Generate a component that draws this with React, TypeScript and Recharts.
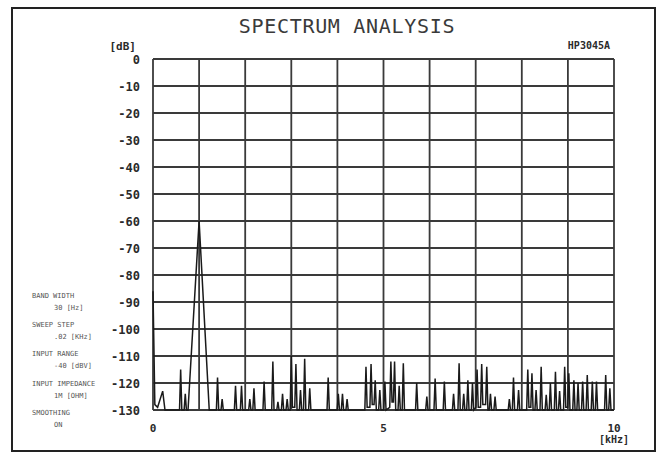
import React from 'react';
import { LineChart, Line, XAxis, YAxis, CartesianGrid } from 'recharts';

// frequency [kHz] and level [dB]
const freqKHz = [
  0, 0.04, 0.1, 0.21, 0.26, 0.575, 0.6, 0.625, 0.675, 0.7, 0.725, 0.76, 1.0, 1.22,
  1.375, 1.4, 1.425, 1.475, 1.5, 1.525,
  1.765, 1.79, 1.815, 1.895, 1.92, 1.945,
  2.075, 2.1, 2.125, 2.165, 2.19, 2.215,
  2.385, 2.41, 2.435, 2.575, 2.6, 2.625, 2.685, 2.71, 2.735, 2.785, 2.81, 2.835,
  2.885, 2.91, 2.935, 2.975, 3.0, 3.025, 3.075, 3.1, 3.125, 3.175, 3.2, 3.225, 3.265, 3.29, 3.315, 3.375, 3.4, 3.425,
  3.775, 3.8, 3.825, 3.995, 4.02, 4.045, 4.085, 4.11, 4.135, 4.185, 4.21, 4.235,
  4.595, 4.62, 4.645, 4.705, 4.73, 4.755, 4.795, 4.82, 4.845, 4.895, 4.92, 4.945, 5.005, 5.03, 5.055,
  5.135, 5.16, 5.185, 5.215, 5.24, 5.265, 5.315, 5.34, 5.365, 5.405, 5.43, 5.455,
  5.695, 5.72, 5.745, 5.915, 5.94, 5.965, 6.095, 6.12, 6.145, 6.295, 6.32, 6.345,
  6.495, 6.52, 6.545, 6.615, 6.64, 6.665, 6.715, 6.74, 6.765, 6.805, 6.83, 6.855, 6.905, 6.93, 6.955,
  7.005, 7.03, 7.055, 7.105, 7.13, 7.155, 7.215, 7.24, 7.265, 7.295, 7.32, 7.345, 7.395, 7.42, 7.445,
  7.705, 7.73, 7.755, 7.795, 7.82, 7.845, 7.905, 7.93, 7.955,
  8.105, 8.13, 8.155, 8.195, 8.22, 8.245, 8.285, 8.31, 8.335, 8.395, 8.42, 8.445, 8.505, 8.53, 8.555,
  8.595, 8.62, 8.645, 8.705, 8.73, 8.755, 8.795, 8.82, 8.845, 8.905, 8.93, 8.955,
  8.995, 9.02, 9.045, 9.105, 9.13, 9.155, 9.195, 9.22, 9.245, 9.295, 9.32, 9.345, 9.395, 9.42, 9.445,
  9.505, 9.53, 9.555, 9.595, 9.62, 9.645, 9.795, 9.82, 9.845, 9.885, 9.91, 9.935, 10,
];

const levelDb = [
  -86, -128, -129, -123, -130, -130, -115, -130, -130, -124, -130, -130, -60, -130,
  -130, -118, -130, -130, -126, -130,
  -130, -121, -130, -130, -121, -130,
  -130, -126, -130, -130, -122, -130,
  -130, -119.5, -130, -130, -112, -130, -130, -127, -130, -130, -124, -130,
  -130, -126, -130, -130, -110, -129, -129, -113, -130, -130, -122.6, -130, -130, -111, -130, -130, -122, -130,
  -130, -118, -130, -130, -124, -130, -130, -124, -130, -130, -126, -130,
  -130, -114, -129, -129, -113, -128, -128, -119, -130, -130, -122.6, -130, -130, -119.5, -130,
  -129, -112, -127, -127, -112, -130, -130, -121, -130, -130, -112.7, -130,
  -130, -120, -130, -130, -125, -130, -130, -118.3, -130, -130, -119.5, -130,
  -130, -124, -130, -130, -112.7, -130, -130, -124, -130, -130, -119, -130, -130, -120, -130,
  -129, -115, -129, -129, -113, -128, -128, -114, -130, -130, -124, -130, -130, -125, -130,
  -130, -126, -130, -130, -118, -130, -130, -122.6, -130,
  -130, -115, -129, -129, -116.4, -130, -130, -122.6, -130, -130, -114, -130, -130, -124.4, -130,
  -130, -120, -130, -130, -115.8, -130, -130, -123, -130, -130, -114, -129,
  -129, -116.4, -130, -130, -119, -130, -130, -120, -130, -130, -119.5, -130, -130, -117, -130,
  -130, -119.5, -130, -130, -119.5, -130, -130, -117, -130, -130, -122, -130, -130,
];

const yTicks = [0, -10, -20, -30, -40, -50, -60, -70, -80, -90, -100, -110, -120, -130];
const xTicks = [0, 1, 2, 3, 4, 5, 6, 7, 8, 9, 10];
const xTickLabels = ['0', '', '', '', '', '5', '', '', '', '', '10'];

const settings = [
  ['BAND WIDTH', '30 [Hz]'],
  ['SWEEP STEP', '.02  [KHz]'],
  ['INPUT RANGE', '-40 [dBV]'],
  ['INPUT IMPEDANCE', '1M [OHM]'],
  ['SMOOTHING', 'ON'],
];

const data = freqKHz.map((f, i) => ({ f, db: levelDb[i] }));

const mono = '"DejaVu Sans Mono", monospace';
const ink = '#2a2a2a';

function YTick(props: any) {
  const { x, y, payload } = props;
  return (
    <text x={x} y={y} dy={4.5} textAnchor="end" fontFamily={mono} fontWeight="bold" fontSize={12} fill={ink}>
      {String(payload.value)}
    </text>
  );
}

function XTick(props: any) {
  const { x, y, payload } = props;
  const label = xTickLabels[xTicks.indexOf(payload.value)];
  if (!label) return null;
  return (
    <g>
      <text x={x} y={y + 22} textAnchor="middle" fontFamily={mono} fontWeight="bold" fontSize={11} fill={ink}>
        {label}
      </text>
      {payload.value === 10 && (
        <text x={x} y={y + 33} textAnchor="middle" fontFamily={mono} fontWeight="bold" fontSize={10} fill={ink}>
          [kHz]
        </text>
      )}
    </g>
  );
}

export default function App() {
  return (
    <div style={{ position: 'absolute', left: 0, top: 0, width: 666, height: 455, background: '#fff' }}>
      <LineChart width={666} height={455} data={data} margin={{ top: 59, right: 52, bottom: 0, left: 0 }}>
        <CartesianGrid stroke="#3a3a3a" strokeWidth={1.8} horizontal vertical />
        <XAxis
          dataKey="f"
          type="number"
          domain={[0, 10]}
          ticks={xTicks}
          height={45}
          tickSize={0}
          tickMargin={0}
          axisLine={false}
          tickLine={false}
          tick={(p: any) => <XTick {...p} />}
          interval={0}
        />
        <YAxis
          type="number"
          domain={[-130, 0]}
          ticks={yTicks}
          width={153}
          tickSize={0}
          tickMargin={13}
          axisLine={false}
          tickLine={false}
          tick={(p: any) => <YTick {...p} />}
          interval={0}
        />
        <Line
          type="linear"
          dataKey="db"
          stroke="#1a1a1a"
          strokeWidth={1.5}
          dot={false}
          isAnimationActive={false}
        />
      </LineChart>
      <svg width={666} height={455} style={{ position: 'absolute', left: 0, top: 0, pointerEvents: 'none' }}>
        <rect x={12} y={8} width={643} height={443} fill="none" stroke="#222" strokeWidth={2} />
        <text x={347} y={33} textAnchor="middle" fontFamily={mono} fontSize={20} letterSpacing={0.7} fill="#3a3a3a">
          SPECTRUM ANALYSIS
        </text>
        <text x={136} y={50} textAnchor="end" fontFamily={mono} fontWeight="bold" fontSize={11} fill={ink}>
          [dB]
        </text>
        <text x={610} y={49} textAnchor="end" fontFamily={mono} fontWeight="bold" fontSize={10} fill={ink}>
          HP3045A
        </text>
        {settings.map(([name, value], i) => (
          <g key={name}>
            <text x={32} y={298 + i * 29.2} fontFamily={mono} fontSize={7} fill="#555">
              {name}
            </text>
            <text x={54} y={310 + i * 29.2} fontFamily={mono} fontSize={7} fill="#555">
              {value}
            </text>
          </g>
        ))}
      </svg>
    </div>
  );
}
